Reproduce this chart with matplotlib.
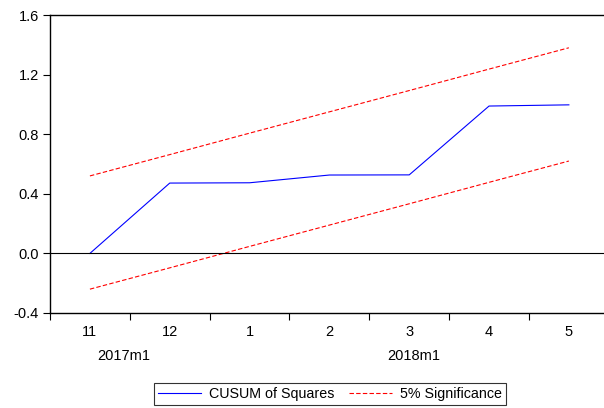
import matplotlib
matplotlib.use("Agg")
import matplotlib.pyplot as plt

plt.rcParams["font.family"] = ["Liberation Sans", "DejaVu Sans"]

months = ["11", "12", "1", "2", "3", "4", "5"]
cusum_sq = [0.0, 0.472, 0.474, 0.526, 0.527, 0.989, 0.997]
upper = [0.52, 0.663, 0.807, 0.95, 1.093, 1.237, 1.38]
lower = [-0.24, -0.097, 0.047, 0.19, 0.333, 0.477, 0.62]
year_labels = [("2017m1", 0.43), ("2018m1", 4.06)]

fig = plt.figure(figsize=(6.04, 4.08), dpi=100)
ax = fig.add_axes([50 / 604, 1 - 313 / 408, 1 - 50 / 604, (313 - 15) / 408])

x = list(range(len(months)))
ax.plot(x, cusum_sq, color="#0000ff", lw=0.8, label="CUSUM of Squares")
ax.plot(x, upper, color="#ff0000", lw=0.8, ls=(0, (4, 2)), label="5% Significance")
ax.plot(x, lower, color="#ff0000", lw=0.8, ls=(0, (4, 2)))
ax.axhline(0, color="black", lw=0.8)

ax.set_xlim(-0.5, 6.44)
ax.set_ylim(-0.4, 1.6)
ax.set_yticks([-0.4, 0.0, 0.4, 0.8, 1.2, 1.6])
ax.set_yticklabels(["-0.4", "0.0", "0.4", "0.8", "1.2", "1.6"])

ax.set_xticks([i - 0.5 for i in range(7)])
ax.set_xticklabels([])
ax.set_xticks(x, minor=True)
ax.set_xticklabels(months, minor=True)
ax.tick_params(axis="x", which="minor", length=0, pad=9, labelsize=10.5)
ax.tick_params(axis="x", which="major", length=5, width=0.8)
ax.tick_params(axis="y", length=5, width=0.8, labelsize=10.5, pad=3)

for s in ["left", "bottom", "top"]:
    ax.spines[s].set_linewidth(1.0)
ax.spines["right"].set_visible(False)

for lab, xpos in year_labels:
    ax.text(xpos, -0.145, lab, transform=ax.get_xaxis_transform(),
            ha="center", va="center", fontsize=10.5)

leg = fig.legend(loc="center", bbox_to_anchor=(330 / 604, 1 - 394 / 408), ncol=2,
                 fontsize=10.3, frameon=True, fancybox=False, handlelength=3,
                 columnspacing=1.0, borderpad=0.25, handletextpad=0.6)
leg.get_frame().set_edgecolor("black")
leg.get_frame().set_linewidth(0.8)

fig.savefig("out.png", dpi=100)
